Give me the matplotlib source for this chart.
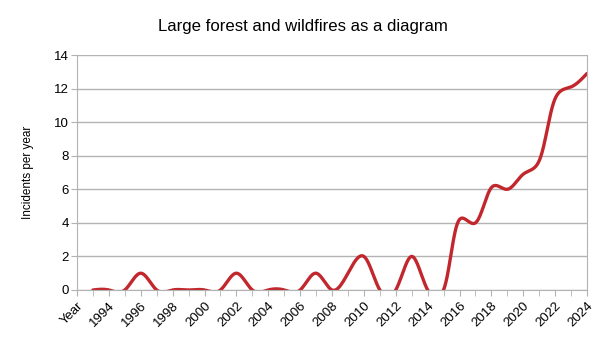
import numpy as np
import matplotlib.pyplot as plt

plt.rcParams['font.family'] = ['Liberation Sans', 'DejaVu Sans']

categories = ['Year'] + [str(y) for y in range(1993, 2025)]
years = list(range(1993, 2025))
incidents = [0, 0, 0, 1, 0, 0, 0, 0, 0, 1, 0, 0, 0, 0, 1, 0, 1, 2, 0, 0, 2, 0,
             0, 4.2, 4, 6.1, 6, 6.9, 7.7, 11.4, 12.1, 12.9]
y_ticks = [0, 2, 4, 6, 8, 10, 12, 14]


def naturalCoeffs(t, v):
    n = len(t)
    h = np.diff(t)
    A = np.zeros((n, n))
    b = np.zeros(n)
    A[0, 0] = 1
    A[-1, -1] = 1
    for i in range(1, n - 1):
        A[i, i - 1] = h[i - 1]
        A[i, i] = 2 * (h[i - 1] + h[i])
        A[i, i + 1] = h[i]
        b[i] = 3 * ((v[i + 1] - v[i]) / h[i] - (v[i] - v[i - 1]) / h[i - 1])
    return h, np.linalg.solve(A, b)


def evalSpline(t, v, h, c, steps):
    out = []
    n = len(t)
    for i in range(n - 1):
        bi = (v[i + 1] - v[i]) / h[i] - h[i] * (2 * c[i] + c[i + 1]) / 3
        di = (c[i + 1] - c[i]) / (3 * h[i])
        s = np.linspace(0, h[i], steps, endpoint=(i == n - 2))
        out.append(v[i] + bi * s + c[i] * s ** 2 + di * s ** 3)
    return np.concatenate(out)


def smoothLine(x, y, yweight=0.25, steps=30):
    # parametric cubic spline, parameter = weighted chord length
    x = np.asarray(x, dtype=float)
    y = np.asarray(y, dtype=float)
    t = np.concatenate([[0], np.cumsum(np.hypot(np.diff(x), np.diff(y) * yweight))])
    hx, cx = naturalCoeffs(t, x)
    hy, cy = naturalCoeffs(t, y)
    return evalSpline(t, x, hx, cx, steps), evalSpline(t, y, hy, cy, steps)


fig = plt.figure(figsize=(6.05, 3.4), dpi=100)
ax = fig.add_axes([77 / 605, 1 - 290 / 340, 510 / 605, 235 / 340])

# category 0 is the "Year" header, the yearly counts start at position 1
pos = np.arange(1, len(years) + 1)
sx, sy = smoothLine(pos, incidents)
ax.plot(sx, sy, color='#c1272d', linewidth=2.4, solid_capstyle='round')

ax.set_xlim(0, len(categories) - 1)
ax.set_ylim(0, 14)
ax.set_yticks(y_ticks)
ax.set_xticks(np.arange(0, len(categories), 2))
ax.set_xticklabels(categories[::2], rotation=45, ha='right', rotation_mode='anchor', fontsize=9.5)
ax.set_xticks(np.arange(len(categories)), minor=True)
ax.tick_params(axis='y', labelsize=9.5, length=4, color='#b3b3b3', pad=2)
ax.tick_params(axis='x', which='both', length=4, color='#b3b3b3', pad=3)
ax.grid(axis='y', color='#b3b3b3', linewidth=1)
ax.set_axisbelow(True)
for side in ['left', 'right', 'bottom']:
    ax.spines[side].set_color('#b3b3b3')
ax.spines['top'].set_visible(False)

ax.set_ylabel('Incidents per year', fontsize=8.5, labelpad=14)
fig.text(0.5, 1 - 26 / 340, 'Large forest and wildfires as a diagram', ha='center', va='center', fontsize=12.1)

fig.savefig('out.png', dpi=100)
